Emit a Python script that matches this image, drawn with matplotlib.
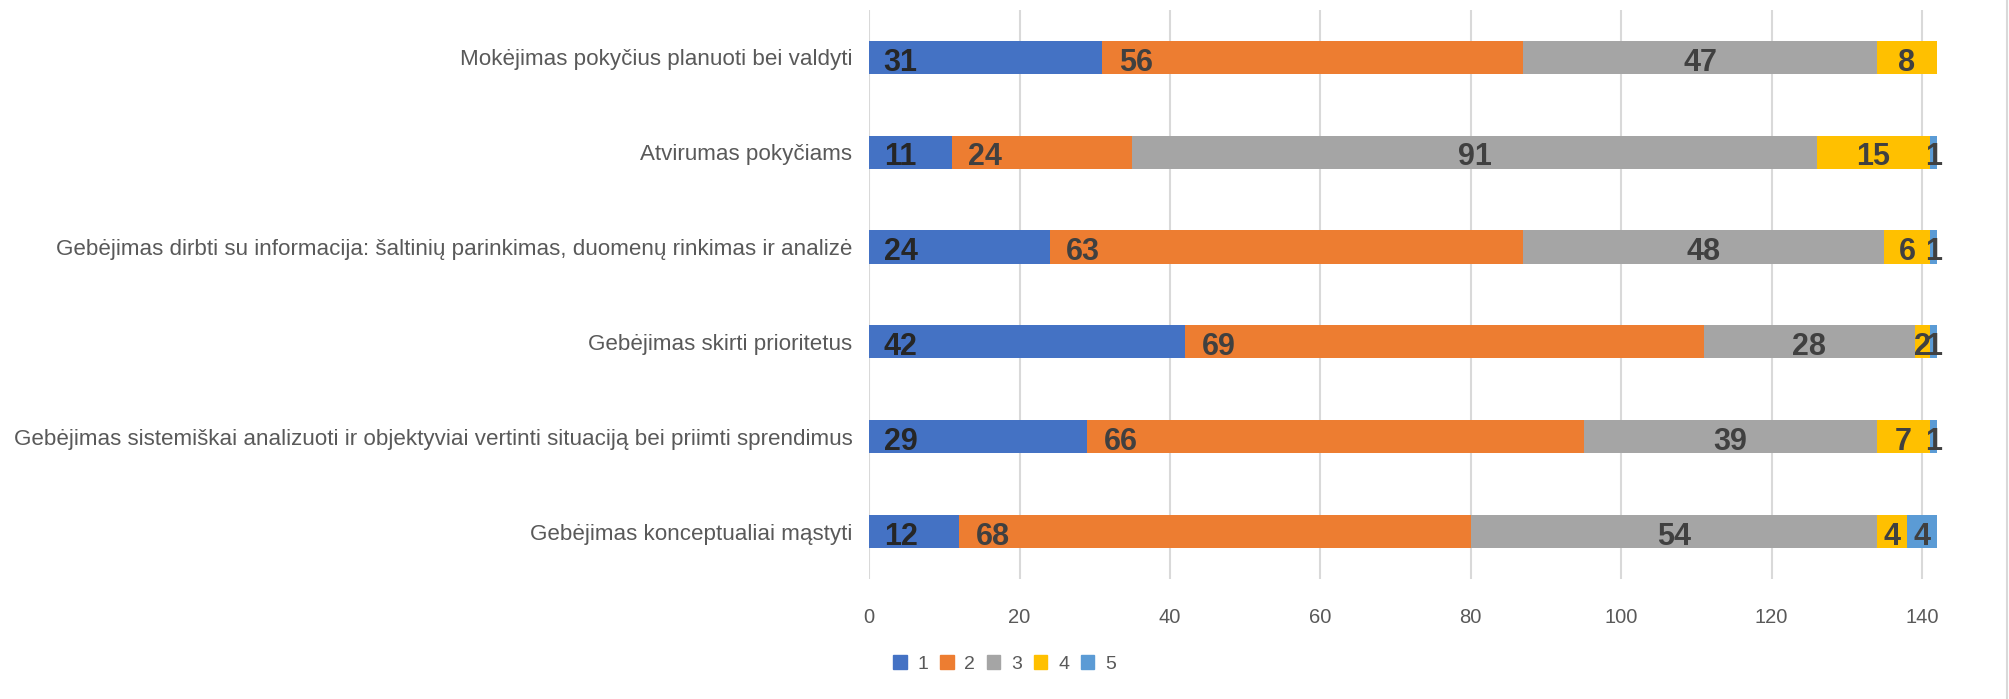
import matplotlib
matplotlib.use("Agg")
import matplotlib.pyplot as plt
from matplotlib.lines import Line2D
from matplotlib.patches import Patch

categories = [
    "Gebėjimas konceptualiai mąstyti",
    "Gebėjimas sistemiškai analizuoti ir objektyviai vertinti situaciją bei priimti sprendimus",
    "Gebėjimas skirti prioritetus",
    "Gebėjimas dirbti su informacija: šaltinių parinkimas, duomenų rinkimas ir analizė",
    "Atvirumas pokyčiams",
    "Mokėjimas pokyčius planuoti bei valdyti",
]
series_names = ["1", "2", "3", "4", "5"]
s1 = [12, 29, 42, 24, 11, 31]
s2 = [68, 66, 69, 63, 24, 56]
s3 = [54, 39, 28, 48, 91, 47]
s4 = [4, 7, 2, 6, 15, 8]
s5 = [4, 1, 1, 1, 1, 0]
x_ticks = [0, 20, 40, 60, 80, 100, 120, 140]

colors = ["#4472C4", "#ED7D31", "#A5A5A5", "#FFC000", "#5B9BD5"]
text_font = "Liberation Sans"
text_color = "#595959"

fig = plt.figure(figsize=(20.09, 6.99), dpi=100)
ax = fig.add_axes([0.4326, 0.1717, 0.9642 - 0.4326, 0.9857 - 0.1717])

ypos = list(range(len(categories)))
left = [0] * len(categories)
for i, vals in enumerate([s1, s2, s3, s4, s5]):
    ax.barh(ypos, vals, left=left, height=0.35, color=colors[i], zorder=2)
    for y, v, l in zip(ypos, vals, left):
        if v == 0:
            continue
        # series 1 and 2 are labelled near the segment start, the rest centred
        if i < 2:
            xy, dx, ha = (l, y), (10.5 if i == 0 else 12), "left"
        else:
            xy, dx, ha = (l + v / 2, y), 0, "center"
        ax.annotate(str(v), xy, xytext=(dx, -9.5), textcoords="offset points",
                    ha=ha, va="baseline", fontsize=22, fontweight="bold",
                    family=text_font, color="#262626" if i == 0 else "#404040",
                    zorder=3)
    left = [a + b for a, b in zip(left, vals)]

ax.set_xlim(0, 142)
ax.set_ylim(-0.5, len(categories) - 0.5)
ax.set_xticks(x_ticks)
ax.set_yticks(ypos)
ax.set_yticklabels(categories, family=text_font, fontsize=16.1, color=text_color)
for lab in ax.get_xticklabels():
    lab.set_family(text_font)
    lab.set_fontsize(14.5)
    lab.set_color(text_color)
ax.tick_params(axis="x", length=0, pad=21)
ax.tick_params(axis="y", length=0, pad=12)
ax.grid(axis="x", color="#D9D9D9", linewidth=1.5, zorder=0)
for sp in ax.spines.values():
    sp.set_visible(False)

handles = [Patch(color=c, label=n) for c, n in zip(colors, series_names)]
fig.legend(handles=handles, loc="center", bbox_to_anchor=(0.5, 1 - 664 / 699), ncol=5,
           frameon=False, handlelength=0.7, handleheight=0.7, handletextpad=0.55,
           columnspacing=0.6, prop={"family": text_font, "size": 14},
           labelcolor=text_color)

# chart border on the right edge
fig.add_artist(Line2D([2006.5 / 2009] * 2, [0, 1], color="#D9D9D9", linewidth=1.5,
                      transform=fig.transFigure))

fig.savefig("out.png", dpi=100)
